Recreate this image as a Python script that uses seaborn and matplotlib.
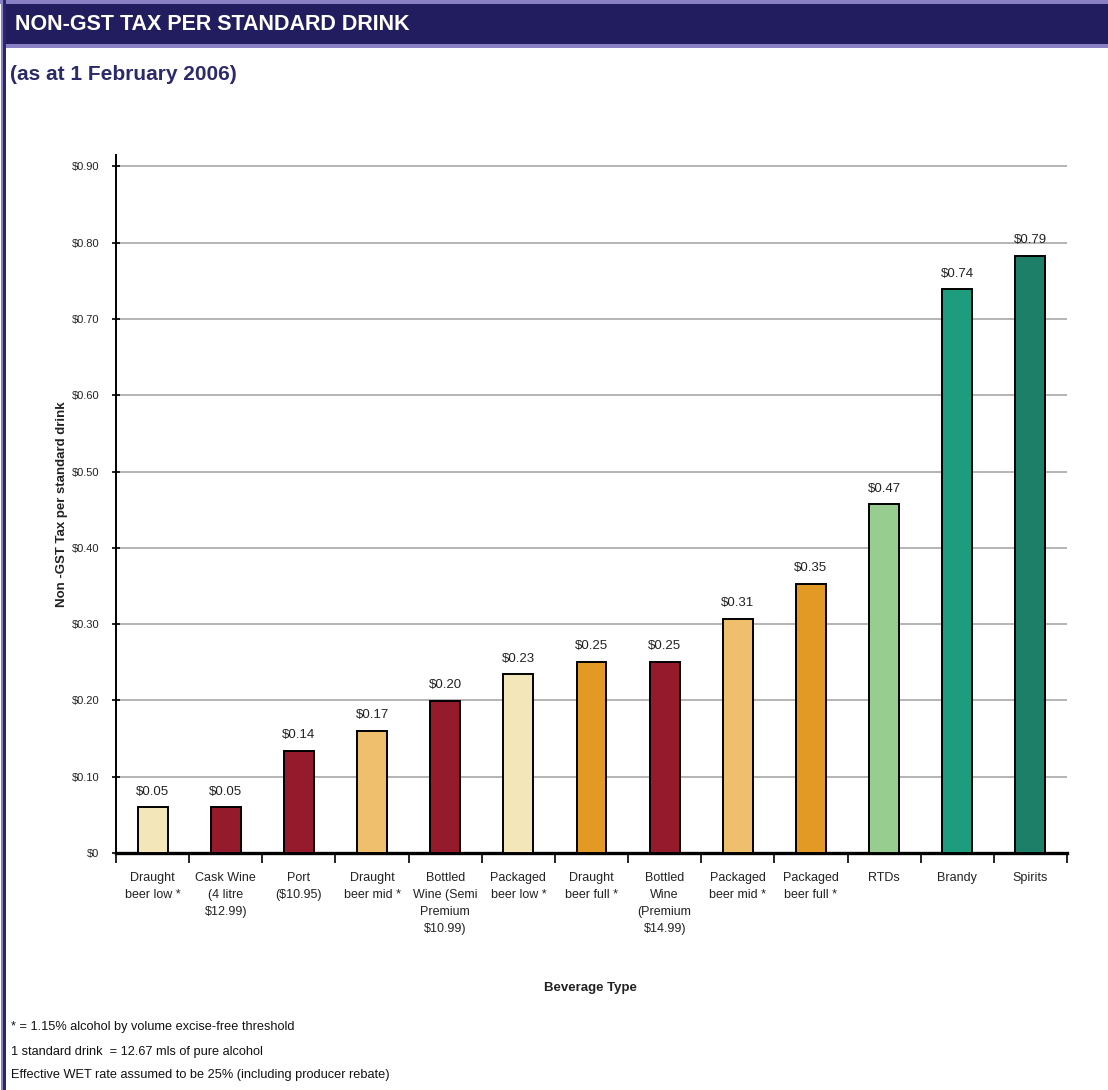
import matplotlib
matplotlib.use("Agg")
import matplotlib.pyplot as plt
from matplotlib.patches import Rectangle
from matplotlib.ticker import FuncFormatter, FixedLocator
import seaborn as sns
import pandas as pd

# ---------------- data ----------------
categories = [
    "Draught\nbeer low *", "Cask Wine\n(4 litre\n$12.99)", "Port\n($10.95)",
    "Draught\nbeer mid *", "Bottled\nWine (Semi\nPremium\n$10.99)", "Packaged\nbeer low *",
    "Draught\nbeer full *", "Bottled\nWine\n(Premium\n$14.99)", "Packaged\nbeer mid *",
    "Packaged\nbeer full *", "RTDs", "Brandy", "Spirits",
]
values = [0.060, 0.060, 0.134, 0.160, 0.199, 0.234, 0.251, 0.251, 0.307, 0.353, 0.457, 0.739, 0.783]
value_labels = ["$0.05", "$0.05", "$0.14", "$0.17", "$0.20", "$0.23", "$0.25", "$0.25",
                "$0.31", "$0.35", "$0.47", "$0.74", "$0.79"]
bar_colors = ["#F3E7B9", "#951B2C", "#951B2C", "#F0BF6E", "#951B2C", "#F3E7B9", "#E39A25",
              "#951B2C", "#F0BF6E", "#E39A25", "#97CD8F", "#1E9C7E", "#1D7F68"]
y_ticks = [0.0, 0.1, 0.2, 0.3, 0.4, 0.5, 0.6, 0.7, 0.8, 0.9]
title = "NON-GST TAX PER STANDARD DRINK"
subtitle = "(as at 1 February 2006)"
y_label = "Non -GST Tax per standard drink"
x_label = "Beverage Type"
footnotes = [
    "* = 1.15% alcohol by volume excise-free threshold",
    "1 standard drink  = 12.67 mls of pure alcohol",
    "Effective WET rate assumed to be 25% (including producer rebate)",
]

df = pd.DataFrame({"category": categories, "value": values})

# ---------------- style ----------------
sns.set_theme(style="white")
plt.rcParams["font.family"] = ["Liberation Sans", "DejaVu Sans"]
plt.rcParams["text.parse_math"] = False

W, H = 1108, 1090
fig = plt.figure(figsize=(W / 100, H / 100), dpi=100)
fig.patch.set_facecolor("white")


def fx(px):
    return px / W


def fy(py):
    return 1 - py / H


ax = fig.add_axes([fx(116), fy(853), fx(1067) - fx(116), fy(155) - fy(853)])

sns.barplot(data=df, x="category", y="value", hue="category", palette=bar_colors,
            legend=False, width=0.41, edgecolor="black", linewidth=1.4, ax=ax,
            saturation=1, zorder=3)

ax.set_xlim(-0.5, len(categories) - 0.5)
ax.set_ylim(0, 0.915)

# grid
ax.yaxis.set_major_locator(FixedLocator(y_ticks))
ax.yaxis.set_major_formatter(FuncFormatter(lambda v, p: "$0" if abs(v) < 1e-9 else f"${v:.2f}"))
ax.grid(axis="y", color="#A8A8A8", linewidth=1.2, zorder=0)
ax.set_axisbelow(True)

# spines
for s in ["top", "right"]:
    ax.spines[s].set_visible(False)
ax.spines["left"].set_color("black")
ax.spines["left"].set_linewidth(1.4)
ax.spines["bottom"].set_color("black")
ax.spines["bottom"].set_linewidth(2.4)

# ticks
ax.tick_params(axis="y", which="major", direction="inout", length=6, width=1.2,
               color="black", labelsize=8, pad=9, left=True)
ax.set_xticks(range(len(categories)))
ax.set_xticklabels(categories, fontsize=9, linespacing=1.55, va="top")
ax.tick_params(axis="x", which="major", length=0, pad=14, bottom=True)
ax.set_xticks([i - 0.5 for i in range(len(categories) + 1)], minor=True)
ax.tick_params(axis="x", which="minor", direction="out", length=7, width=1.2,
               color="black", bottom=True)
for t in ax.get_xticklabels() + ax.get_yticklabels():
    t.set_color("#222222")

ax.set_xlabel("")
ax.set_ylabel("")

# value labels
for i, (v, lab) in enumerate(zip(values, value_labels)):
    ax.annotate(lab, xy=(i, v), xytext=(0, 7), textcoords="offset points",
                ha="center", va="bottom", fontsize=9.5, color="#222222")

# axis titles
fig.text(fx(62), fy(504), y_label, rotation=90, ha="center", va="center",
         fontsize=9.5, fontweight="bold", color="#222222")
fig.text(fx(590), fy(988), x_label, ha="center", va="center",
         fontsize=9.5, fontweight="bold", color="#222222")

# footnotes
for txt, py in zip(footnotes, [1027, 1052, 1075]):
    fig.text(fx(11), fy(py), txt, ha="left", va="center", fontsize=9.2, color="#111111")

# decorative frame: title bar and left border
fig.patches.append(Rectangle((0, fy(4)), 1, fy(0) - fy(4), transform=fig.transFigure,
                             facecolor="#8A80C4", edgecolor="none", zorder=0))
fig.patches.append(Rectangle((fx(6), fy(44)), 1, fy(4) - fy(44), transform=fig.transFigure,
                             facecolor="#221D5E", edgecolor="none", zorder=0))
fig.patches.append(Rectangle((fx(6), fy(48)), 1, fy(44) - fy(48), transform=fig.transFigure,
                             facecolor="#8A80C4", edgecolor="none", zorder=0))
fig.patches.append(Rectangle((fx(3), 0), fx(3), 1, transform=fig.transFigure,
                             facecolor="#2A2570", edgecolor="none", zorder=0))
fig.patches.append(Rectangle((fx(1), 0), fx(2), 1, transform=fig.transFigure,
                             facecolor="#8A80C4", edgecolor="none", zorder=0))

fig.text(fx(15), fy(25), title, ha="left", va="center", fontsize=15.5,
         fontweight="bold", color="white")
fig.text(fx(10), fy(75), subtitle, ha="left", va="center", fontsize=15,
         fontweight="bold", color="#2B2A6B")

fig.savefig("out.png", dpi=100)
